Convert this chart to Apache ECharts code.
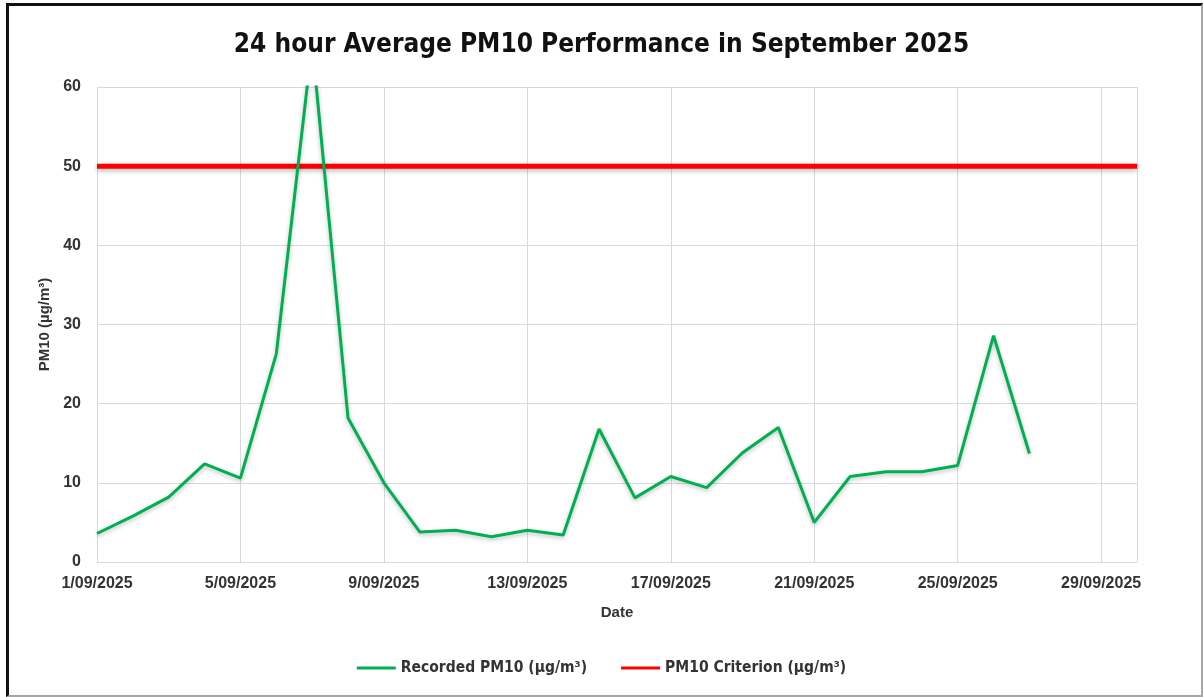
<!DOCTYPE html>
<html>
<head>
<meta charset="utf-8">
<script src="https://cdn.jsdelivr.net/npm/echarts@6/dist/echarts.min.js"></script>
<style>
  html, body { margin: 0; padding: 0; background: #fff; }
  #chart { position: absolute; left: 0; top: 0; width: 1203px; height: 697px; }
  #frame {
    position: absolute; left: 6px; top: 3px; width: 1192px; height: 689px;
    border-top: 3px solid #111; border-left: 3px solid #111;
    border-right: 2px solid #a6a6a6; border-bottom: 2px solid #a6a6a6;
    pointer-events: none;
  }
</style>
</head>
<body>
<div id="chart"></div>
<div id="frame"></div>
<script>
// 24h average PM10, September 2025
var days = [1, 2, 3, 4, 5, 6, 7, 8, 9, 10, 11, 12, 13, 14, 15, 16, 17, 18, 19, 20, 21, 22, 23, 24, 25, 26, 27];
var pm10 = [3.6, 5.8, 8.2, 12.4, 10.6, 26.3, 65.5, 18.2, 10.0, 3.8, 4.0, 3.2, 4.0, 3.4, 16.8, 8.1, 10.8, 9.4, 13.8, 17.0, 5.0, 10.8, 11.4, 11.4, 12.2, 28.6, 13.7];
var criterionDays = [1, 30];
var criterion = 50;
var recordedName = 'Recorded PM10 (µg/m³)';
var criterionName = 'PM10 Criterion (µg/m³)';

var narrow = "'DejaVu Sans Condensed', 'Roboto Condensed', Roboto, sans-serif";

var recordedData = [];
for (var i = 0; i < days.length; i++) {
    recordedData.push([days[i] - 1, pm10[i]]);
}
var criterionData = criterionDays.map(function (d) { return [d - 1, criterion]; });

var chart = echarts.init(document.getElementById('chart'));
chart.setOption({
    animation: false,
    title: {
        text: '24 hour Average PM10 Performance in September 2025',
        left: 'center',
        top: 27,
        textStyle: {
            fontFamily: narrow,
            fontWeight: 'bold',
            fontSize: 26,
            color: '#111'
        }
    },
    grid: { left: 97, right: 66, top: 87, bottom: 135 },
    legend: {
        bottom: 16,
        left: 'center',
        icon: 'rect',
        itemWidth: 39,
        itemHeight: 3,
        itemGap: 34,
        textStyle: {
            fontFamily: narrow,
            fontWeight: 'bold',
            fontSize: 15.5,
            color: '#333'
        },
        data: [recordedName, criterionName]
    },
    xAxis: {
        type: 'value',
        min: 0,
        max: 29,
        interval: 4,
        name: 'Date',
        nameLocation: 'middle',
        nameGap: 43,
        nameTextStyle: { fontFamily: 'Liberation Sans', fontWeight: 'bold', fontSize: 15, color: '#333' },
        axisLine: { show: true, lineStyle: { color: '#d9d9d9', width: 1 } },
        axisTick: { show: false },
        axisLabel: {
            margin: 14,
            showMaxLabel: false,
            fontFamily: 'Liberation Sans', fontWeight: 'bold', fontSize: 16, color: '#333',
            formatter: function (v) { return (v + 1) + '/09/2025'; }
        },
        splitLine: { show: true, lineStyle: { color: '#d9d9d9', width: 1 } }
    },
    yAxis: {
        type: 'value',
        min: 0,
        max: 60,
        interval: 10,
        name: 'PM10 (µg/m³)',
        nameLocation: 'middle',
        nameGap: 42,
        nameTextStyle: { fontFamily: 'Liberation Sans', fontWeight: 'bold', fontSize: 15, color: '#333' },
        axisLine: { show: false },
        axisTick: { show: false },
        axisLabel: {
            margin: 16,
            fontFamily: 'Liberation Sans', fontWeight: 'bold', fontSize: 16, color: '#333'
        },
        splitLine: { show: true, lineStyle: { color: '#d9d9d9', width: 1 } }
    },
    series: [{
        name: recordedName,
        type: 'line',
        data: recordedData,
        symbol: 'none',
        clip: true,
        z: 3,
        lineStyle: {
            color: '#00b050', width: 3,
            shadowColor: 'rgba(0,0,0,0.25)', shadowBlur: 4, shadowOffsetY: 2
        },
        itemStyle: { color: '#00b050' }
    }, {
        name: criterionName,
        type: 'line',
        data: criterionData,
        symbol: 'none',
        z: 2,
        lineStyle: {
            color: '#ff0000', width: 5,
            shadowColor: 'rgba(0,0,0,0.3)', shadowBlur: 5, shadowOffsetY: 2
        },
        itemStyle: { color: '#ff0000' }
    }]
});
</script>
</body>
</html>
